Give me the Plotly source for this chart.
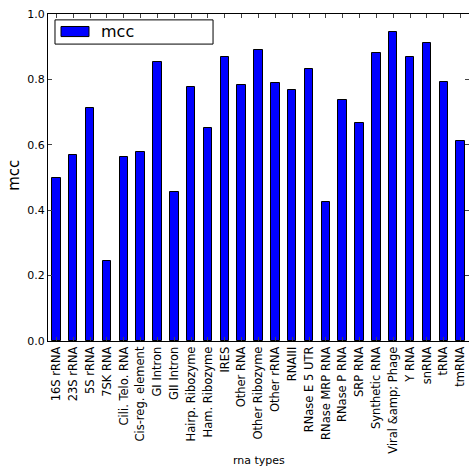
import plotly.graph_objects as go

categories = ["16S rRNA", "23S rRNA", "5S rRNA", "7SK RNA", "Cili. Telo. RNA",
              "Cis-reg. element", "GI Intron", "GII Intron", "Hairp. Ribozyme",
              "Ham. Ribozyme", "IRES", "Other RNA", "Other Ribozyme", "Other rRNA",
              "RNAIII", "RNase E 5 UTR", "RNase MRP RNA", "RNase P RNA", "SRP RNA",
              "Synthetic RNA", "Viral &amp;amp; Phage", "Y RNA", "snRNA", "tRNA", "tmRNA"]
mcc = [0.497, 0.568, 0.712, 0.245, 0.564, 0.577, 0.854, 0.456, 0.778,
       0.651, 0.868, 0.784, 0.891, 0.788, 0.768, 0.832, 0.424, 0.737, 0.666,
       0.880, 0.944, 0.869, 0.910, 0.792, 0.611]
y_ticks = [0.0, 0.2, 0.4, 0.6, 0.8, 1.0]
series_name = "mcc"
x_title = "rna types"
y_title = "mcc"

x_idx = list(range(len(categories)))
fig = go.Figure()
fig.add_trace(go.Bar(x=x_idx, y=mcc, name=series_name, width=0.5, showlegend=False,
                     marker=dict(color="#0000ff", line=dict(color="black", width=1))))

font = "DejaVu Sans"
fig.update_layout(
    width=469, height=467,
    margin=dict(l=48, r=0, t=14, b=126, pad=0),
    plot_bgcolor="white", paper_bgcolor="white",
    font=dict(family=font, color="black", size=11),
    showlegend=False,
    bargap=0,
    shapes=[
        dict(type="rect", xref="paper", yref="paper",
             x0=0.0166, x1=0.392, y0=0.908, y1=0.982,
             line=dict(color="black", width=1), fillcolor="white"),
        dict(type="rect", xref="paper", yref="paper",
             x0=0.0309, x1=0.0974, y0=0.931, y1=0.9618,
             line=dict(color="black", width=1), fillcolor="#0000ff"),
    ],
    annotations=[
        dict(text=series_name, xref="paper", yref="paper", x=0.1211, y=0.9465,
             xanchor="left", yanchor="middle", showarrow=False,
             font=dict(size=16)),
        dict(text=x_title, xref="paper", yref="paper", x=0.5, y=-0.364,
             xanchor="center", yanchor="middle", showarrow=False,
             font=dict(size=11)),
        dict(text=y_title, xref="paper", yref="paper", x=-0.0808, y=0.508,
             xanchor="center", yanchor="middle", showarrow=False, textangle=-90,
             font=dict(size=15)),
    ],
)
fig.update_xaxes(range=[-0.5, 24.5], tickmode="array", tickvals=x_idx,
                 ticktext=categories, tickangle=-90, ticks="inside", ticklen=4,
                 showline=True, linecolor="black", linewidth=1, mirror="ticks",
                 showgrid=False, tickfont=dict(size=11.5), automargin=False)
fig.update_yaxes(range=[0, 1.0], tickmode="array", tickvals=y_ticks,
                 ticktext=[f"{v:.1f}" for v in y_ticks], ticks="inside", ticklen=4,
                 showline=True, linecolor="black", linewidth=1, mirror="ticks",
                 showgrid=False, zeroline=False, tickfont=dict(size=11),
                 automargin=False)
fig.write_html("out.html", config={"displayModeBar": False},
               post_script="document.body.style.margin='0';document.body.style.overflow='hidden';")
